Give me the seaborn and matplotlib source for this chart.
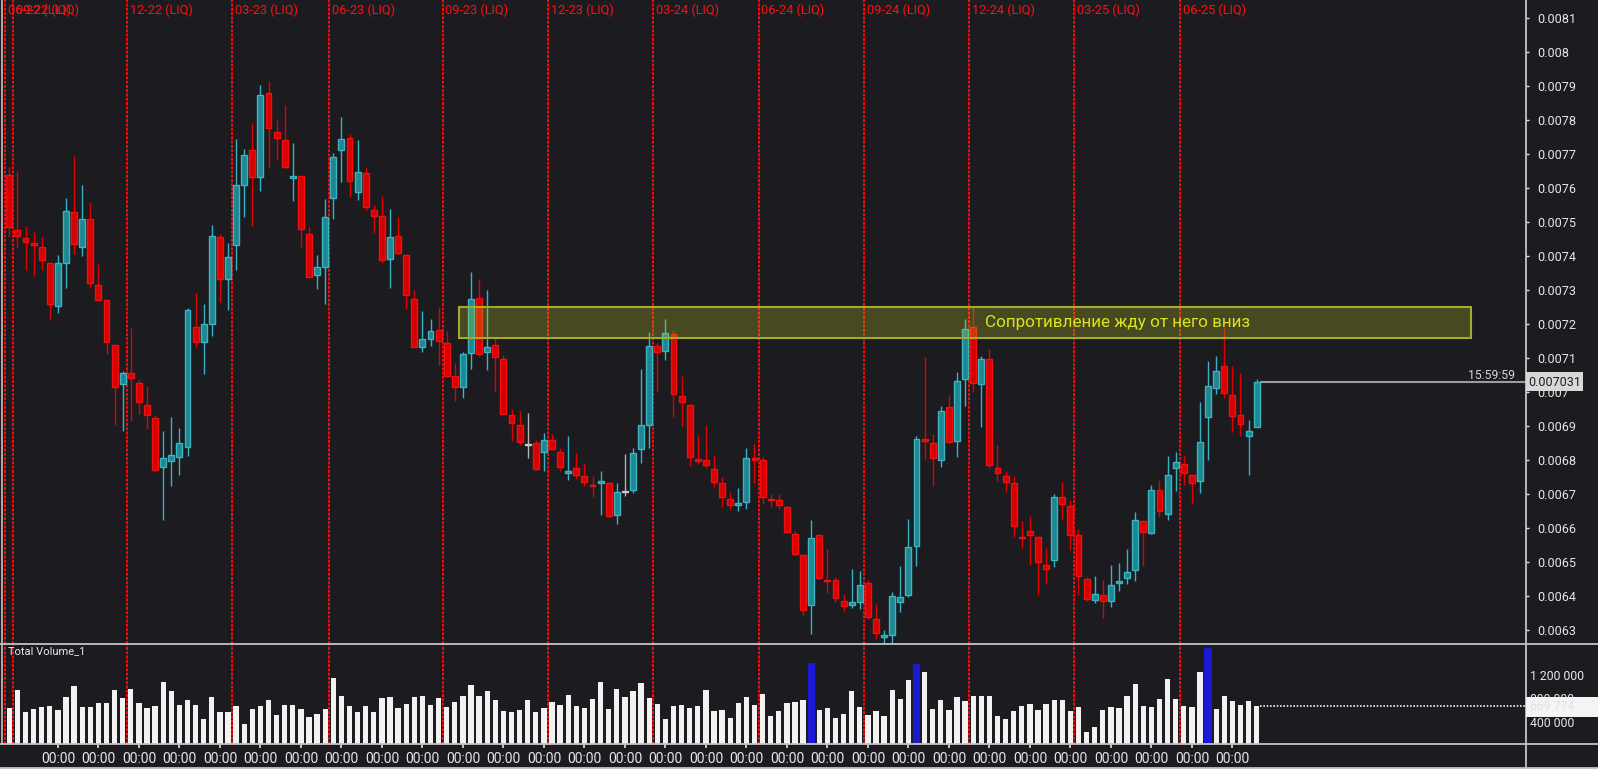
import matplotlib
matplotlib.use("Agg")
import numpy as np
import pandas as pd
import matplotlib.pyplot as plt
from matplotlib.patches import Rectangle
from matplotlib.lines import Line2D
from matplotlib.ticker import FixedLocator, FuncFormatter
import matplotlib.transforms as mtransforms
import seaborn as sns

# weekly candles
opens = [
    0.007640, 0.007477, 0.007455, 0.007438, 0.007428, 0.007379, 0.007255, 0.007379, 0.007530, 0.007427,
    0.007509, 0.007315, 0.007271, 0.007138, 0.007025, 0.007058, 0.007028, 0.006964, 0.006925, 0.006781,
    0.006798, 0.006809, 0.006839, 0.007191, 0.007147, 0.007200, 0.007457, 0.007333, 0.007433, 0.007609,
    0.007712, 0.007634, 0.007881, 0.007767, 0.007743, 0.007629, 0.007636, 0.007466, 0.007346, 0.007368,
    0.007572, 0.007714, 0.007748, 0.007590, 0.007644, 0.007537, 0.007520, 0.007393, 0.007461, 0.007405,
    0.007274, 0.007134, 0.007157, 0.007182, 0.007145, 0.007047, 0.007016, 0.007116, 0.007277, 0.007118,
    0.007138, 0.007097, 0.006933, 0.006905, 0.006846, 0.006852, 0.006826, 0.006861, 0.006826, 0.006763,
    0.006779, 0.006753, 0.006729, 0.006734, 0.006734, 0.006640, 0.006708, 0.006713, 0.006833, 0.006903,
    0.007136, 0.007122, 0.007173, 0.006988, 0.006964, 0.006804, 0.006800, 0.006776, 0.006732, 0.006687,
    0.006668, 0.006677, 0.006807, 0.006800, 0.006686, 0.006682, 0.006662, 0.006584, 0.006521, 0.006376,
    0.006580, 0.006449, 0.006448, 0.006386, 0.006375, 0.006383, 0.006440, 0.006333, 0.006281, 0.006285,
    0.006383, 0.006405, 0.006549, 0.006864, 0.006850, 0.006801, 0.006956, 0.006857, 0.007038, 0.007191,
    0.007025, 0.007097, 0.006778, 0.006753, 0.006733, 0.006576, 0.006591, 0.006575, 0.006491, 0.006507,
    0.006693, 0.006665, 0.006580, 0.006451, 0.006390, 0.006405, 0.006386, 0.006438, 0.006454, 0.006477,
    0.006621, 0.006586, 0.006713, 0.006641, 0.006778, 0.006790, 0.006756, 0.006739, 0.006928, 0.007014,
    0.007077, 0.006992, 0.006934, 0.006872, 0.006899,
]
highs = [
    0.007662, 0.007651, 0.007488, 0.007473, 0.007457, 0.007380, 0.007405, 0.007573, 0.007694, 0.007610,
    0.007561, 0.007376, 0.007272, 0.007139, 0.007064, 0.007189, 0.007038, 0.007019, 0.006934, 0.006887,
    0.006928, 0.006894, 0.007249, 0.007291, 0.007261, 0.007493, 0.007466, 0.007438, 0.007745, 0.007717,
    0.007792, 0.007905, 0.007916, 0.007800, 0.007844, 0.007732, 0.007637, 0.007485, 0.007404, 0.007568,
    0.007703, 0.007811, 0.007761, 0.007741, 0.007663, 0.007551, 0.007576, 0.007538, 0.007517, 0.007406,
    0.007302, 0.007238, 0.007215, 0.007251, 0.007180, 0.007086, 0.007118, 0.007355, 0.007333, 0.007300,
    0.007160, 0.007111, 0.006950, 0.006944, 0.006939, 0.006859, 0.006881, 0.006878, 0.006835, 0.006872,
    0.006822, 0.006792, 0.006754, 0.006770, 0.006735, 0.006732, 0.006820, 0.006837, 0.007069, 0.007178,
    0.007145, 0.007215, 0.007184, 0.007047, 0.006965, 0.006875, 0.006903, 0.006815, 0.006750, 0.006708,
    0.006718, 0.006837, 0.006848, 0.006809, 0.006702, 0.006702, 0.006665, 0.006593, 0.006522, 0.006626,
    0.006581, 0.006538, 0.006458, 0.006407, 0.006482, 0.006475, 0.006449, 0.006377, 0.006300, 0.006413,
    0.006490, 0.006629, 0.006872, 0.007103, 0.006878, 0.006961, 0.006992, 0.007060, 0.007215, 0.007252,
    0.007108, 0.007128, 0.006846, 0.006768, 0.006754, 0.006621, 0.006637, 0.006577, 0.006541, 0.006702,
    0.006737, 0.006684, 0.006599, 0.006458, 0.006460, 0.006449, 0.006493, 0.006499, 0.006540, 0.006648,
    0.006624, 0.006728, 0.006743, 0.006812, 0.006826, 0.006817, 0.006759, 0.006973, 0.007091, 0.007108,
    0.007189, 0.007078, 0.007056, 0.006920, 0.007038,
]
lows = [
    0.007457, 0.007424, 0.007359, 0.007341, 0.007359, 0.007213, 0.007233, 0.007307, 0.007407, 0.007401,
    0.007307, 0.007272, 0.007113, 0.006903, 0.006887, 0.006916, 0.006936, 0.006892, 0.006768, 0.006626,
    0.006724, 0.006756, 0.006812, 0.007133, 0.007053, 0.007166, 0.007266, 0.007242, 0.007361, 0.007516,
    0.007488, 0.007593, 0.007660, 0.007682, 0.007660, 0.007562, 0.007426, 0.007338, 0.007304, 0.007260,
    0.007509, 0.007620, 0.007575, 0.007567, 0.007537, 0.007468, 0.007381, 0.007308, 0.007408, 0.007246,
    0.007132, 0.007119, 0.007136, 0.007079, 0.007044, 0.006975, 0.006984, 0.007069, 0.007108, 0.007067,
    0.007000, 0.006935, 0.006857, 0.006846, 0.006806, 0.006772, 0.006770, 0.006831, 0.006770, 0.006743,
    0.006746, 0.006726, 0.006691, 0.006640, 0.006634, 0.006613, 0.006696, 0.006704, 0.006792, 0.006835,
    0.007001, 0.007096, 0.006929, 0.006901, 0.006784, 0.006789, 0.006778, 0.006722, 0.006663, 0.006657,
    0.006651, 0.006657, 0.006732, 0.006671, 0.006662, 0.006657, 0.006588, 0.006522, 0.006344, 0.006290,
    0.006451, 0.006410, 0.006383, 0.006358, 0.006366, 0.006364, 0.006333, 0.006275, 0.006248, 0.006241,
    0.006355, 0.006399, 0.006488, 0.006804, 0.006726, 0.006781, 0.006851, 0.006809, 0.006961, 0.007001,
    0.006898, 0.006778, 0.006740, 0.006706, 0.006574, 0.006543, 0.006493, 0.006405, 0.006436, 0.006485,
    0.006626, 0.006536, 0.006405, 0.006387, 0.006380, 0.006336, 0.006369, 0.006416, 0.006436, 0.006446,
    0.006488, 0.006584, 0.006632, 0.006624, 0.006709, 0.006728, 0.006673, 0.006704, 0.006800, 0.006994,
    0.006983, 0.006884, 0.006872, 0.006756, 0.006897,
]
closes = [
    0.007487, 0.007461, 0.007441, 0.007433, 0.007388, 0.007260, 0.007379, 0.007533, 0.007435, 0.007509,
    0.007322, 0.007273, 0.007147, 0.007016, 0.007058, 0.007042, 0.006972, 0.006934, 0.006772, 0.006806,
    0.006817, 0.006850, 0.007241, 0.007147, 0.007202, 0.007459, 0.007332, 0.007399, 0.007609, 0.007698,
    0.007634, 0.007875, 0.007778, 0.007747, 0.007664, 0.007637, 0.007479, 0.007339, 0.007370, 0.007517,
    0.007692, 0.007745, 0.007621, 0.007648, 0.007545, 0.007520, 0.007389, 0.007458, 0.007409, 0.007286,
    0.007134, 0.007157, 0.007180, 0.007151, 0.007047, 0.007016, 0.007112, 0.007274, 0.007114, 0.007134,
    0.007105, 0.006936, 0.006909, 0.006853, 0.006846, 0.006775, 0.006859, 0.006833, 0.006781, 0.006768,
    0.006756, 0.006736, 0.006725, 0.006739, 0.006636, 0.006707, 0.006708, 0.006823, 0.006903, 0.007136,
    0.007119, 0.007174, 0.006994, 0.006971, 0.006809, 0.006798, 0.006786, 0.006737, 0.006693, 0.006668,
    0.006674, 0.006806, 0.006801, 0.006691, 0.006682, 0.006668, 0.006589, 0.006524, 0.006361, 0.006571,
    0.006454, 0.006445, 0.006396, 0.006372, 0.006383, 0.006434, 0.006338, 0.006292, 0.006285, 0.006402,
    0.006397, 0.006545, 0.006864, 0.006857, 0.006807, 0.006944, 0.006853, 0.007033, 0.007186, 0.007027,
    0.007097, 0.006787, 0.006763, 0.006737, 0.006606, 0.006571, 0.006580, 0.006500, 0.006480, 0.006691,
    0.006671, 0.006580, 0.006460, 0.006392, 0.006407, 0.006387, 0.006433, 0.006444, 0.006471, 0.006626,
    0.006589, 0.006713, 0.006651, 0.006756, 0.006795, 0.006763, 0.006734, 0.006853, 0.007018, 0.007063,
    0.006997, 0.006931, 0.006906, 0.006885, 0.007031,
]
volumes = [
    631000, 940000, 575000, 614000, 648000, 670000, 603000, 816000, 1013000, 659000,
    648000, 715000, 721000, 940000, 805000, 957000, 721000, 637000, 670000, 1075000,
    929000, 682000, 771000, 682000, 446000, 816000, 569000, 569000, 665000, 367000,
    614000, 670000, 766000, 524000, 693000, 682000, 620000, 479000, 530000, 625000,
    1136000, 833000, 676000, 564000, 676000, 564000, 799000, 822000, 637000, 710000,
    827000, 833000, 693000, 805000, 653000, 743000, 833000, 1024000, 839000, 917000,
    771000, 592000, 575000, 603000, 771000, 564000, 631000, 743000, 682000, 850000,
    665000, 631000, 783000, 1080000, 620000, 951000, 827000, 923000, 1063000, 799000,
    698000, 446000, 665000, 682000, 631000, 665000, 934000, 592000, 597000, 463000,
    715000, 827000, 682000, 872000, 496000, 592000, 715000, 732000, 777000, 1389000,
    603000, 631000, 468000, 530000, 923000, 648000, 513000, 586000, 496000, 945000,
    783000, 1114000, 1372000, 1237000, 614000, 766000, 603000, 816000, 755000, 839000,
    833000, 844000, 507000, 446000, 592000, 676000, 710000, 597000, 698000, 766000,
    766000, 580000, 659000, 238000, 322000, 597000, 659000, 631000, 844000, 1035000,
    670000, 648000, 794000, 1119000, 783000, 670000, 659000, 1249000, 1653000, 614000,
    844000, 755000, 682000, 760000, 669774,
]
spike_bars = [99, 112, 148]

liq_pos = [-0.5, 0.5, 14.5, 27.5, 39.5, 53.5, 66.5, 79.5, 92.5, 105.5, 118.5, 131.5, 144.5]
liq_labels = ["06-22 (LIQ)", "09-22 (LIQ)", "12-22 (LIQ)", "03-23 (LIQ)", "06-23 (LIQ)",
              "09-23 (LIQ)", "12-23 (LIQ)", "03-24 (LIQ)", "06-24 (LIQ)", "09-24 (LIQ)",
              "12-24 (LIQ)", "03-25 (LIQ)", "06-25 (LIQ)"]

time_ticks = list(range(6, 155, 5))
time_label = "00:00"
price_ticks = [0.0063, 0.0064, 0.0065, 0.0066, 0.0067, 0.0068, 0.0069, 0.0070, 0.0071,
               0.0072, 0.0073, 0.0074, 0.0075, 0.0076, 0.0077, 0.0078, 0.0079, 0.0080, 0.0081]
vol_ticks = [400000, 800000, 1200000]

zone_top, zone_bottom = 0.007250, 0.007161
zone_start, zone_end = 55.5, 180.4
zone_text = "Сопротивление жду от него вниз"
last_price = 0.007031
last_volume = 669774
countdown = "15:59:59"

BG = "#1c1c20"
FG = "#e6e6e6"
FRAME = "#c4c4c4"
W, H = 1598, 769

sns.set_theme(style="dark", rc={"axes.facecolor": BG, "figure.facecolor": BG,
                                "axes.edgecolor": BG, "axes.grid": False})
plt.rcParams["font.family"] = ["Roboto", "DejaVu Sans"]

df = pd.DataFrame({"o": opens, "h": highs, "l": lows, "c": closes, "v": volumes})
df["i"] = np.arange(len(df))
df["kind"] = np.where(df.c > df.o, "up", np.where(df.c < df.o, "down", "flat"))
df["spike"] = np.where(df.i.isin(spike_bars), "spike", "normal")

body_fill = {"up": "#1f8791", "down": "#d60000", "flat": "#b4b4b4"}
body_edge = {"up": "#3bb3c0", "down": "#f01010", "flat": "#c8c8c8"}
wick_col = {"up": "#34b4c4", "down": "#e00000", "flat": "#b4b4b4"}

x_right = 1525.6
fig = plt.figure(figsize=(W / 100, H / 100), dpi=100)
ax = fig.add_axes([0, 1 - 644 / H, x_right / W, 644 / H])
axv = fig.add_axes([0, 25 / H, x_right / W, 100 / H], sharex=ax)
for a in (ax, axv):
    a.set_facecolor(BG)
    for s in a.spines.values():
        s.set_visible(False)

# candles
ax.vlines(df.i, df.l, df.h, colors=df.kind.map(wick_col), lw=1.0, zorder=3, clip_on=False)
body_h = (df.c - df.o).abs().clip(lower=2e-6)
ax.bar(df.i, body_h, bottom=df[["o", "c"]].min(axis=1), width=0.72,
       color=df.kind.map(body_fill), edgecolor=df.kind.map(body_edge), linewidth=1.0,
       zorder=4, clip_on=False)

# quarter markers
liq_style = dict(color="#ff0a0a", lw=1.4, linestyle=(0, (1.5, 0.7)), zorder=2)
blend = mtransforms.blended_transform_factory(ax.transData, ax.transAxes)
for xp, lab in zip(liq_pos, liq_labels):
    ax.axvline(xp, **liq_style)
    axv.axvline(xp, **liq_style)
    ax.text(xp + 0.35, 1 - 10 / 644, lab, transform=blend, color="#ff1010",
            fontsize=9.2, va="center", ha="left")

# resistance zone
ax.add_patch(Rectangle((zone_start, zone_bottom), zone_end - zone_start, zone_top - zone_bottom,
                       facecolor="#c8d020", alpha=0.25, edgecolor="none", zorder=6))
ax.add_patch(Rectangle((zone_start, zone_bottom), zone_end - zone_start, zone_top - zone_bottom,
                       facecolor="none", edgecolor="#a3ab2c", lw=1.5, zorder=6))
ax.text(120.5, (zone_top + zone_bottom) / 2, zone_text, color="#dae41e", fontsize=12.3,
        va="center", ha="left", zorder=7)

# current price line
ax.hlines(last_price, 154.4, 200, colors="#9c9c9c", lw=1.5, zorder=3)

ax.set_xlim(-1.15, 187.2)
ax.set_ylim(0.00626, 0.0081538)
ax.yaxis.tick_right()
ax.yaxis.set_major_locator(FixedLocator(price_ticks))
ax.yaxis.set_major_formatter(FuncFormatter(lambda v, p: f"{v:.4f}".rstrip("0")))
ax.tick_params(axis="y", colors=FG, labelsize=9.1, length=2.2, width=1, pad=6, right=True)
ax.tick_params(axis="x", bottom=False, labelbottom=False)

# volume
sns.barplot(data=df, x="i", y="v", hue="spike", native_scale=True, dodge=False,
            palette={"normal": "#f2f2f2", "spike": "#1a1ad6"}, saturation=1, width=0.66,
            errorbar=None, legend=False, linewidth=0, ax=axv, zorder=3)
sp = df[df.spike == "spike"]
axv.bar(sp.i, sp.v, width=0.9, color="#1a1ad6", edgecolor="none", linewidth=0, zorder=4)
axv.hlines(last_volume, 154.4, 200, colors="#f0f0f0", lw=1.2, linestyle=(0, (1, 1)), zorder=3)
axv.set_xlim(-1.15, 187.2)
axv.set_ylim(30316, 1714516)
axv.set_xlabel("")
axv.set_ylabel("")
axv.yaxis.tick_right()
axv.yaxis.set_major_locator(FixedLocator(vol_ticks))
axv.yaxis.set_major_formatter(FuncFormatter(lambda v, p: f"{int(v):,}".replace(",", " ")))
axv.tick_params(axis="y", colors=FG, labelsize=8.8, length=0, pad=3)
axv.xaxis.set_major_locator(FixedLocator(time_ticks))
axv.xaxis.set_major_formatter(FuncFormatter(lambda v, p: time_label))
axv.tick_params(axis="x", colors=FRAME, labelcolor=FG, labelsize=10, length=3, width=1.4,
                direction="out", pad=3, bottom=True)
axv.text(0.005, 1 - 7 / 100, "Total Volume_1", transform=axv.transAxes, color=FG,
         fontsize=8, va="center", ha="left")

# frame lines
def fline(x0, y0, x1, y1, lw=1.3):
    fig.add_artist(Line2D([x0 / W, x1 / W], [1 - y0 / H, 1 - y1 / H], color=FRAME, lw=lw, zorder=10))

fline(x_right, 0, x_right, 767)
fline(0, 644, W, 644)
fline(0, 744, W, 744)
fline(0, 767.5, W, 767.5, lw=2)
fline(1.5, 0, 1.5, 744, lw=1.2)

# right side labels
fig.patches.append(Rectangle((x_right / W, 1 - 391.5 / H), 57 / W, 19.5 / H,
                             transform=fig.transFigure, facecolor="#d8d8d8", edgecolor="none", zorder=11))
fig.text((x_right + 3) / W, 1 - 382 / H, f"{last_price:.6f}", color="#1e1e1e", fontsize=9,
         va="center", ha="left", zorder=12)
fig.text(1515 / W, 1 - 375 / H, countdown, color="#d6d6d6", fontsize=8.8,
         va="center", ha="right", zorder=12)
fig.patches.append(Rectangle((x_right / W, 1 - 717 / H), (W - x_right) / W, 20 / H,
                             transform=fig.transFigure, facecolor="#f4f4f4", edgecolor="none", zorder=11))
fig.text((x_right + 4) / W, 1 - 707 / H, "669 774", color="#e2e2e2", fontsize=8.8,
         va="center", ha="left", zorder=12)

fig.savefig("out.png", dpi=100, facecolor=BG)
